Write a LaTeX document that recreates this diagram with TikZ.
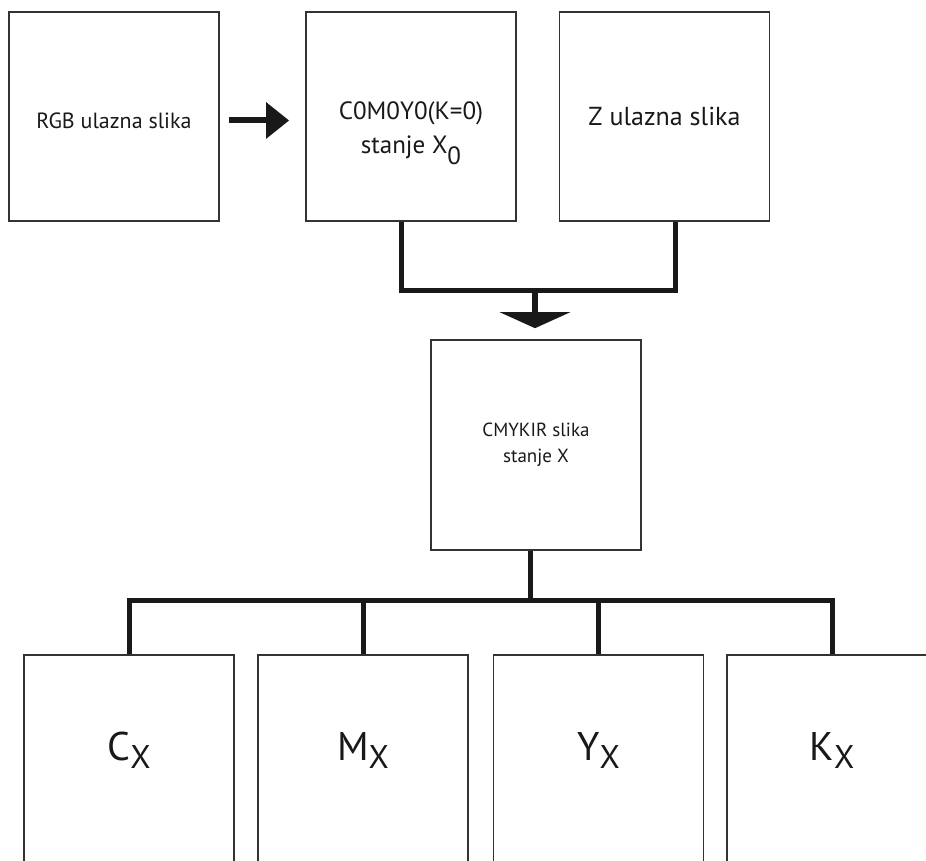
\documentclass[tikz,border=0pt]{standalone}
\usepackage{fontspec}
\setmainfont{PT Sans}
\usepackage{graphicx}
\usetikzlibrary{calc,positioning,arrows.meta}
\newcommand{\lowsub}[2]{\raisebox{-#1}{#2}}
\newcommand{\shiftdn}[2]{\raisebox{-#1}[\height][\depth]{#2}}

\begin{document}
\begin{tikzpicture}[x=1pt, y=-1pt,
  box/.style={draw=black!80, line width=1.6pt, minimum width=210pt, minimum height=209pt, inner sep=0pt, align=center, text=black!90},
  conn/.style={line width=5pt, black!90},
  big/.style={font=\fontsize{40}{40}\selectfont}]
\useasboundingbox (0,0) rectangle (926,861);
\clip (0,0) rectangle (926,861);
% ulazne slike
\node[box, font=\fontsize{22}{30}\selectfont] (rgb) at (114,116.5) {\shiftdn{4pt}{RGB ulazna slika}};
\node[box, font=\fontsize{25}{34}\selectfont] (c0) at (411,116.5)
  {\shiftdn{14pt}{\begin{tabular}{@{}c@{}}C0M0Y0(K=0)\\stanje X\lowsub{0.45em}{0}\end{tabular}}};
\node[box, font=\fontsize{26}{30}\selectfont] (zin) at (664.5,116.5) {Z ulazna slika};
\node[box, font=\fontsize{19}{26}\selectfont, minimum height=210pt] (cmyk) at (536,445) {CMYKIR slika\\stanje X};
% izlazni kanali
\foreach \n/\lab/\x in {cx/C/129, mx/M/363, yx/Y/598.5, kx/K/832}
  \node[box, big, minimum height=210pt] (\n) at (\x,760) {\shiftdn{-10pt}{\lab\lowsub{0.2em}{\scalebox{0.82}{X}}}};
\coordinate (join) at (535,290);
\coordinate (bus) at (530,600);
\draw[conn, line width=6pt, -{Triangle[length=23pt, width=35pt]}, shorten <=9pt, shorten >=16pt]
  ($(rgb.east)+(0,4)$) -- ($(c0.west)+(0,4)$);
\draw[conn] ($(c0.south)+(-10,0)$) |- (join) -| ($(zin.south)+(11,0)$);
\draw[conn, line width=6pt, -{Triangle[length=16pt, width=70pt]}, shorten >=11pt] (join) -- (join |- cmyk.north);
\draw[conn] ($(cmyk.south)+(-6,0)$) -- (bus);
\draw[conn] (cx.north) |- (bus) -| (kx.north);
\foreach \n in {mx, yx}
  \draw[conn] (\n.north) -- (\n.north |- bus);
\end{tikzpicture}
\end{document}
